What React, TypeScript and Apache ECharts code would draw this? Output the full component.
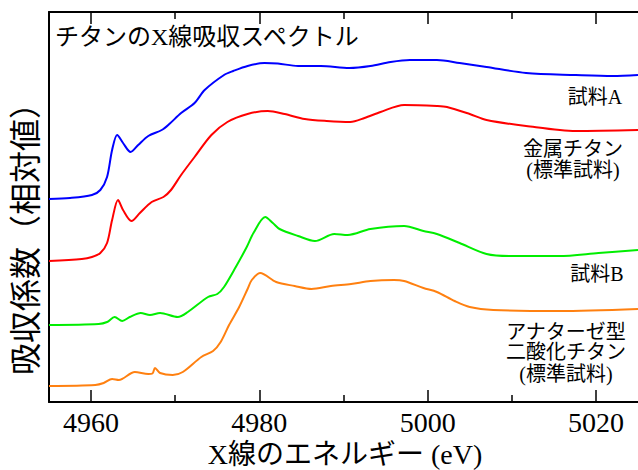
import React, { useEffect, useRef } from "react";
import * as echarts from "echarts";

// Sample A (blue)
const energyA = [4955, 4957.5, 4960.1, 4961.1, 4961.9, 4962.5, 4963.1, 4963.8, 4964.7, 4965.6, 4966.8, 4968.4, 4969.3, 4970.7, 4972.3, 4973.5, 4975.8, 4976.9, 4978.6, 4980.6, 4982.2, 4984.6, 4987.3, 4990.7, 4993.2, 4995.6, 4997.9, 5001.1, 5003.8, 5007.0, 5011.7, 5017.6, 5022.0, 5025];
const absA = [2.03, 2.04, 2.07, 2.12, 2.25, 2.52, 2.67, 2.59, 2.5, 2.57, 2.66, 2.72, 2.78, 2.89, 2.99, 3.12, 3.27, 3.31, 3.36, 3.39, 3.385, 3.36, 3.36, 3.34, 3.36, 3.4, 3.42, 3.42, 3.39, 3.35, 3.29, 3.27, 3.26, 3.27];

// Metallic titanium (red)
const energyTi = [4955, 4958.9, 4960.1, 4961.1, 4961.9, 4962.5, 4963.2, 4963.8, 4964.8, 4965.8, 4967.2, 4968.6, 4969.5, 4970.7, 4972.3, 4974.3, 4976.2, 4978.6, 4981.0, 4983.0, 4985.4, 4988.0, 4990.8, 4992.5, 4994.4, 4997.2, 5001.1, 5002.3, 5005.0, 5007.0, 5011.7, 5017.6, 5025];
const absTi = [1.41, 1.43, 1.45, 1.49, 1.59, 1.82, 2.02, 1.92, 1.81, 1.89, 2.0, 2.05, 2.12, 2.27, 2.45, 2.67, 2.8, 2.88, 2.91, 2.88, 2.83, 2.81, 2.8, 2.84, 2.9, 2.97, 2.96, 2.95, 2.88, 2.82, 2.76, 2.71, 2.72];

// Sample B (green)
const energyB = [4955, 4960.9, 4961.9, 4962.8, 4963.7, 4964.6, 4965.9, 4967.0, 4968.2, 4970.3, 4971.5, 4973.9, 4975.0, 4975.8, 4977.2, 4978.5, 4979.3, 4980.7, 4981.6, 4982.4, 4984.6, 4986.6, 4988.9, 4990.5, 4993.2, 4997.2, 4999.5, 5001.1, 5003.8, 5007.0, 5009.7, 5015.6, 5020.3, 5025];
const absB = [0.77, 0.78, 0.8, 0.85, 0.81, 0.85, 0.89, 0.87, 0.89, 0.85, 0.9, 1.05, 1.08, 1.15, 1.35, 1.55, 1.69, 1.85, 1.79, 1.73, 1.66, 1.61, 1.68, 1.67, 1.73, 1.76, 1.71, 1.68, 1.59, 1.48, 1.46, 1.46, 1.49, 1.52];

// Anatase TiO2 (orange)
const energyAn = [4955, 4960.5, 4961.5, 4962.5, 4963.3, 4965.2, 4966.8, 4967.3, 4967.6, 4968.2, 4969.7, 4970.9, 4973.1, 4974.5, 4975.4, 4976.4, 4977.6, 4978.6, 4979.1, 4980.1, 4982.0, 4984.2, 4986.2, 4988.5, 4990.9, 4993.2, 4996.0, 4997.2, 4999.5, 5001.1, 5003.2, 5005.0, 5007.8, 5015.6, 5025];
const absAn = [0.16, 0.17, 0.19, 0.23, 0.22, 0.3, 0.28, 0.285, 0.34, 0.29, 0.27, 0.3, 0.45, 0.51, 0.6, 0.77, 0.95, 1.13, 1.22, 1.29, 1.2, 1.16, 1.13, 1.16, 1.18, 1.21, 1.22, 1.21, 1.14, 1.1, 1.01, 0.95, 0.92, 0.91, 0.93];

const majorTicks = [4960, 4980, 5000, 5020];
const minorTicks = [4970, 4990, 5010];

const title = "チタンのX線吸収スペクトル";
const xTitle = "X線のエネルギー (eV)";
const yTitle = "吸収係数（相対値）";

const SERIF = '"Liberation Serif", "Noto Sans CJK JP", serif';
const NUM = '"Liberation Serif", serif';

const zip = (xs: number[], ys: number[]) => xs.map((x, i) => [x, ys[i]]);

export default function App() {
  const ref = useRef<HTMLDivElement>(null);
  useEffect(() => {
    if (!ref.current) return;
    const chart = echarts.init(ref.current, null, { renderer: "svg" });
    const axisLine = { show: true, lineStyle: { color: "#000", width: 2 } };
    const tickStyle = { color: "#000", width: 1.5 };
    const baseX = { type: "value", min: 4955, max: 5025, splitLine: { show: false } };
    const mkLine = (name: string, xs: number[], ys: number[], color: string) => ({
      name,
      type: "line",
      data: zip(xs, ys),
      showSymbol: false,
      smooth: 0.3,
      lineStyle: { color, width: 2 },
      itemStyle: { color },
      xAxisIndex: 0,
      yAxisIndex: 0,
    });
    const labelStyle = (text: string, x: number, y: number, size = 20) => ({
      type: "text",
      x,
      y,
      style: {
        text,
        fontFamily: SERIF,
        fontSize: size,
        fill: "#000",
        textAlign: "center",
        textVerticalAlign: "middle",
      },
    });
    chart.setOption({
      animation: false,
      backgroundColor: "#fff",
      grid: { left: 49, top: 12, width: 594, height: 390, containLabel: false },
      xAxis: [
        {
          ...baseX,
          position: "bottom",
          axisLine,
          axisTick: { show: true, inside: true, length: 12, lineStyle: tickStyle, customValues: majorTicks },
          axisLabel: {
            show: true,
            customValues: majorTicks,
            formatter: (v: number) => String(v),
            fontFamily: NUM,
            fontSize: 28,
            color: "#000",
            margin: 6,
          },
        },
        {
          ...baseX,
          position: "bottom",
          axisLine: { show: false },
          axisTick: { show: true, inside: true, length: 7, lineStyle: tickStyle, customValues: minorTicks },
          axisLabel: { show: false },
        },
        {
          ...baseX,
          position: "top",
          axisLine,
          axisTick: { show: true, inside: true, length: 12, lineStyle: tickStyle, customValues: majorTicks },
          axisLabel: { show: false },
        },
        {
          ...baseX,
          position: "top",
          axisLine: { show: false },
          axisTick: { show: true, inside: true, length: 7, lineStyle: tickStyle, customValues: minorTicks },
          axisLabel: { show: false },
        },
      ],
      yAxis: {
        type: "value",
        min: 0,
        max: 3.9,
        axisLine,
        axisTick: { show: false },
        axisLabel: { show: false },
        splitLine: { show: false },
      },
      series: [
        mkLine("試料A", energyA, absA, "#0000ff"),
        mkLine("金属チタン", energyTi, absTi, "#ff0000"),
        mkLine("試料B", energyB, absB, "#00ee00"),
        mkLine("アナターゼ型二酸化チタン", energyAn, absAn, "#ff8010"),
      ],
      graphic: [
        {
          type: "text",
          x: 55,
          y: 37,
          style: { text: title, fontFamily: SERIF, fontSize: 24, fill: "#000", textAlign: "left", textVerticalAlign: "middle" },
        },
        labelStyle(xTitle, 345, 454, 28),
        {
          type: "text",
          x: 26,
          y: 231,
          rotation: Math.PI / 2,
          style: { text: yTitle, fontFamily: SERIF, fontSize: 32, fill: "#000", textAlign: "center", textVerticalAlign: "middle" },
        },
        labelStyle("試料A", 595, 97),
        labelStyle("金属チタン", 573, 149),
        labelStyle("(標準試料)", 573, 170),
        labelStyle("試料B", 597, 274),
        labelStyle("アナターゼ型", 566, 332),
        labelStyle("二酸化チタン", 566, 352),
        labelStyle("(標準試料)", 566, 374),
      ],
    });
    return () => chart.dispose();
  }, []);
  return (
    <div
      ref={ref}
      style={{ position: "fixed", left: 0, top: 0, width: 638, height: 470, background: "#fff" }}
    />
  );
}
